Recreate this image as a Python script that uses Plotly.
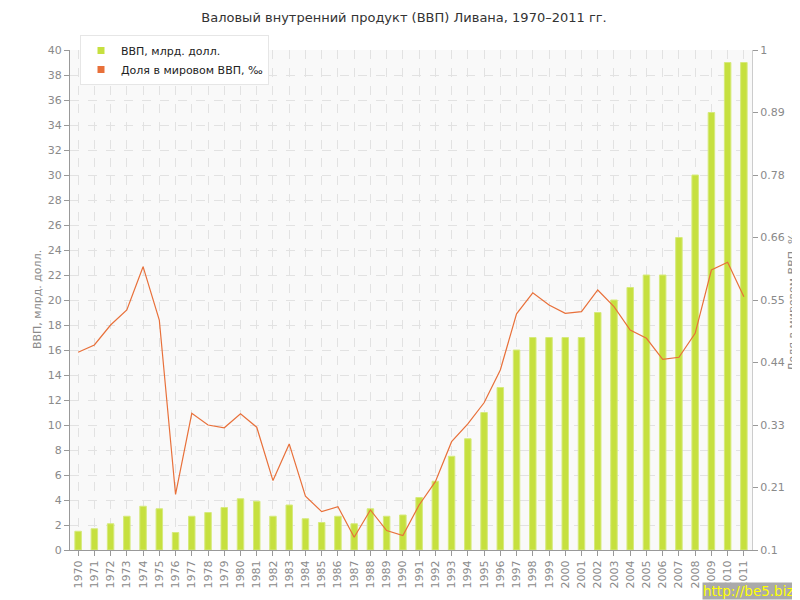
import plotly.graph_objects as go

years = [str(y) for y in range(1970, 2012)]

# ВВП, млрд. долл.
gdp = [1.5, 1.7, 2.1, 2.7, 3.5, 3.3, 1.4, 2.7, 3.0, 3.4,
       4.1, 3.9, 2.7, 3.6, 2.5, 2.2, 2.7, 2.1, 3.3, 2.7,
       2.8, 4.2, 5.5, 7.5, 8.9, 11.0, 13.0, 16.0, 17.0, 17.0,
       17.0, 17.0, 19.0, 20.0, 21.0, 22.0, 22.0, 25.0, 30.0, 35.0,
       39.0, 39.0]

# Доля в мировом ВВП, промилле
share = [0.456, 0.469, 0.505, 0.532, 0.610, 0.514, 0.200, 0.346, 0.325, 0.320,
         0.345, 0.321, 0.225, 0.291, 0.197, 0.169, 0.178, 0.123, 0.172, 0.135,
         0.126, 0.181, 0.223, 0.295, 0.327, 0.365, 0.424, 0.525, 0.563, 0.541,
         0.526, 0.529, 0.568, 0.538, 0.496, 0.481, 0.443, 0.447, 0.490, 0.604,
         0.618, 0.556]

left_ticks = list(range(0, 41, 2))
right_tick_labels = ['0.1', '0.21', '0.33', '0.44', '0.55', '0.66', '0.78', '0.89', '1']
right_tick_vals = [0.1 + i * 0.1125 for i in range(len(right_tick_labels))]

BAR_COLOR = '#c6e03f'
LINE_COLOR = '#e8703a'
GRID = '#e2e2e2'
TICK_FONT = dict(family='DejaVu Sans', size=11, color='#8a8a8a')
TITLE_FONT = dict(family='DejaVu Sans', size=11, color='#8a8a8a')

# page body has an 8px margin, so the figure is a bit smaller than the window
W, H = 792, 592
ML, MT, PW, PH = 62, 42, 682, 500

fig = go.Figure()

fig.add_trace(go.Bar(
    x=years, y=gdp,
    marker=dict(color=BAR_COLOR, line=dict(color='#d6ea7c', width=1)),
    width=0.4,
    showlegend=False,
    name='ВВП, млрд. долл.'
))

fig.add_trace(go.Scatter(
    x=years, y=share,
    mode='lines',
    line=dict(color=LINE_COLOR, width=1.2),
    yaxis='y2',
    showlegend=False,
    name='Доля в мировом ВВП, ‰'
))

# legend entries with small square markers
for name, color in [('ВВП, млрд. долл.', BAR_COLOR), ('Доля в мировом ВВП, ‰', LINE_COLOR)]:
    fig.add_trace(go.Scatter(
        x=[None], y=[None], mode='markers', name=name,
        marker=dict(symbol='square', size=7, color=color)
    ))

fig.update_layout(
    width=W, height=H,
    margin=dict(l=ML, r=W - ML - PW, t=MT, b=H - MT - PH, autoexpand=False),
    paper_bgcolor='white',
    plot_bgcolor='#f9f9f9',
    font=dict(family='DejaVu Sans', size=11, color='#555'),
    title=dict(text='Валовый внутренний продукт (ВВП) Ливана, 1970–2011 гг.',
               x=0.5, xanchor='center', y=1 - 9 / H, yanchor='middle',
               font=dict(family='DejaVu Sans', size=13, color='#333')),
    legend=dict(x=10 / PW, y=1 + 15 / PH, xanchor='left', yanchor='top',
                bgcolor='white', bordercolor='#e6e6e6', borderwidth=1,
                font=dict(family='DejaVu Sans', size=11, color='#222'),
                tracegroupgap=0),
    xaxis=dict(
        type='category',
        tickangle=-90,
        tickfont=TICK_FONT,
        showline=True, linecolor='#999', linewidth=1,
        ticks='outside', ticklen=5, tickcolor='#999',
        showgrid=True, gridcolor=GRID, griddash='dash', gridwidth=1,
        layer='above traces',
        automargin=False,
    ),
    yaxis=dict(
        range=[0, 40],
        tickvals=left_ticks,
        tickfont=TICK_FONT,
        showline=True, linecolor='#999', linewidth=1,
        ticks='outside', ticklen=5, tickcolor='#999',
        showgrid=True, gridcolor=GRID, griddash='dash', gridwidth=1,
        zeroline=False,
        layer='above traces',
        automargin=False,
    ),
    yaxis2=dict(
        range=[0.1, 1],
        overlaying='y', side='right',
        tickvals=right_tick_vals, ticktext=right_tick_labels,
        tickfont=TICK_FONT,
        showline=True, linecolor='#ccc', linewidth=1,
        ticks='outside', ticklen=5, tickcolor='#999',
        showgrid=False, zeroline=False,
        automargin=False,
    ),
)

# axis titles
fig.add_annotation(text='ВВП, млрд. долл.', xref='paper', yref='paper',
                   x=-33 / PW, y=0.5, textangle=-90, showarrow=False,
                   xanchor='center', yanchor='middle', font=TITLE_FONT)
fig.add_annotation(text='Доля в мировом ВВП, ‰', xref='paper', yref='paper',
                   x=1 + 40 / PW, y=0.5, textangle=-90, showarrow=False,
                   xanchor='center', yanchor='middle', font=TITLE_FONT)

fig.add_annotation(
    text='http://be5.biz/', xref='paper', yref='paper',
    x=1 + 48 / PW, y=-50 / PH, xanchor='right', yanchor='bottom', showarrow=False,
    font=dict(family='DejaVu Sans', size=13.5, color='#ffff00'),
    bgcolor='#aaaaaa', borderpad=0
)

fig.write_html('out.html')
